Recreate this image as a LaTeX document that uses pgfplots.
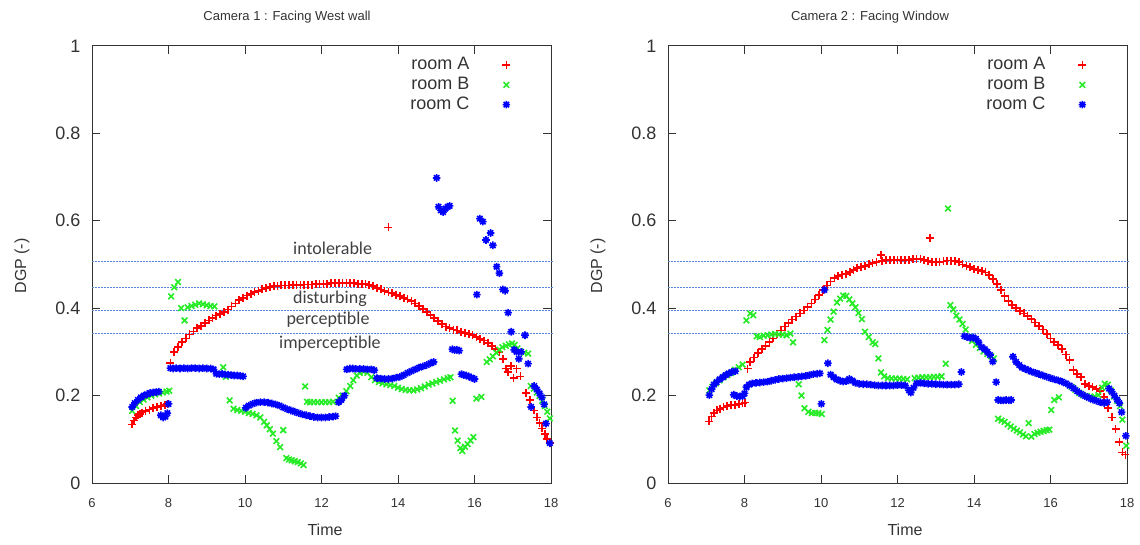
\documentclass[border=0pt]{standalone}
\usepackage{pgfplots}
\pgfplotsset{compat=1.18}
\usepackage{fontspec}
\setmainfont{Liberation Sans}
\newfontfamily\calfont{Carlito}

\definecolor{gpred}{rgb}{1,0,0}
\definecolor{gpgreen}{rgb}{0.15,0.92,0.15}
\definecolor{gpblue}{rgb}{0,0,1}
\definecolor{bandline}{rgb}{0.33,0.53,0.85}
\definecolor{txtgray}{rgb}{0.2,0.2,0.2}
\definecolor{bandtxt}{rgb}{0.25,0.25,0.25}

% gnuplot style 8 arm star
\pgfdeclareplotmark{gstar}{%
  \pgfpathmoveto{\pgfqpoint{-\pgfplotmarksize}{0pt}}\pgfpathlineto{\pgfqpoint{\pgfplotmarksize}{0pt}}%
  \pgfpathmoveto{\pgfqpoint{0pt}{-\pgfplotmarksize}}\pgfpathlineto{\pgfqpoint{0pt}{\pgfplotmarksize}}%
  \pgfpathmoveto{\pgfqpoint{-.707\pgfplotmarksize}{-.707\pgfplotmarksize}}\pgfpathlineto{\pgfqpoint{.707\pgfplotmarksize}{.707\pgfplotmarksize}}%
  \pgfpathmoveto{\pgfqpoint{-.707\pgfplotmarksize}{.707\pgfplotmarksize}}\pgfpathlineto{\pgfqpoint{.707\pgfplotmarksize}{-.707\pgfplotmarksize}}%
  \pgfusepathqstroke}

\pgfplotsset{
  dgpaxis/.style={
    scale only axis, width=459pt, height=437pt,
    anchor=south west, clip=false,
    xmin=6, xmax=18, ymin=0, ymax=1,
    xtick={6,8,10,12,14,16,18}, xticklabels={6,8,10,12,14,16,18},
    ytick={0,0.2,0.4,0.6,0.8,1}, yticklabels={0,0.2,0.4,0.6,0.8,1},
    tick align=inside, major tick length=8pt,
    axis line style={txtgray, line width=1pt},
    every tick/.style={txtgray, line width=1pt},
    xticklabel style={inner sep=0pt, yshift=-15pt, font=\fontsize{13}{15}\selectfont, text=txtgray},
    yticklabel style={inner sep=0pt, xshift=-11.5pt, font=\fontsize{18}{20}\selectfont, text=txtgray},
    legend plot pos=right, legend cell align=right,
    legend style={draw=none, fill=none, inner sep=0pt,
      at={(rel axis cs:0.912,0.976)}, anchor=north east,
      font=\fontsize{18}{20}\selectfont, text=txtgray,
      row sep=2.7pt, column sep=33pt,
      nodes={inner sep=0pt, text height=13pt, text depth=4pt}},
  },
  roomA/.style={only marks, mark=+, mark size=4pt, draw=gpred, color=gpred,
    mark options={draw=gpred, line width=1.7pt}},
  roomB/.style={only marks, mark=x, mark size=4pt, draw=gpgreen, color=gpgreen,
    mark options={draw=gpgreen, line width=1.6pt}},
  roomC/.style={only marks, mark=gstar, mark size=3.8pt, draw=gpblue, color=gpblue,
    mark options={draw=gpblue, line width=1.6pt}},
  band/.style={forget plot, no marks, draw=bandline, line width=1pt, dash pattern=on 2pt off 1pt},
}

\begin{document}
\begin{tikzpicture}
\path[use as bounding box] (0,0) rectangle (1140pt,544pt);

% ---------------- Camera 1 ----------------
\begin{axis}[dgpaxis, at={(92pt,61pt)}]
\addplot[band] coordinates {(6,0.5069) (18.05,0.5069)};
\addplot[band] coordinates {(6,0.4474) (18.05,0.4474)};
\addplot[band] coordinates {(6,0.3947) (18.05,0.3947)};
\addplot[band] coordinates {(6,0.3421) (18.05,0.3421)};

\addplot[roomA] coordinates {
(7.05,0.134) (7.1,0.143) (7.15,0.150) (7.2,0.155) (7.25,0.158) (7.3,0.161) (7.4,0.165)
(7.5,0.168) (7.6,0.171) (7.7,0.174) (7.8,0.176) (7.9,0.178) (7.97,0.180)
(8.05,0.275) (8.15,0.300) (8.25,0.311) (8.35,0.322) (8.45,0.331) (8.55,0.340) (8.65,0.347)
(8.75,0.354) (8.85,0.360) (8.95,0.366) (9.05,0.372) (9.15,0.378) (9.25,0.383) (9.35,0.387)
(9.45,0.392) (9.55,0.397) (9.65,0.404) (9.75,0.411) (9.85,0.418) (9.95,0.424) (10.05,0.429)
(10.15,0.433) (10.25,0.437) (10.35,0.440) (10.45,0.443) (10.55,0.446) (10.65,0.448) (10.75,0.450)
(10.85,0.451) (10.95,0.452) (11.05,0.452) (11.15,0.452) (11.25,0.453) (11.35,0.453) (11.45,0.453)
(11.55,0.454) (11.65,0.454) (11.75,0.454) (11.85,0.455) (11.95,0.455) (12.05,0.456) (12.15,0.456)
(12.25,0.457) (12.35,0.457) (12.45,0.458) (12.55,0.458) (12.65,0.457) (12.75,0.457) (12.85,0.457)
(12.95,0.456) (13.05,0.456) (13.15,0.455) (13.25,0.453) (13.35,0.451) (13.45,0.447) (13.55,0.443)
(13.65,0.439) (13.75,0.585) (13.75,0.436) (13.85,0.434) (13.95,0.431) (14.05,0.428) (14.15,0.424)
(14.25,0.420) (14.35,0.416) (14.45,0.411) (14.55,0.405) (14.65,0.398) (14.75,0.391) (14.85,0.384)
(14.95,0.377) (15.05,0.371) (15.15,0.364) (15.25,0.358) (15.35,0.354) (15.45,0.351) (15.55,0.349)
(15.65,0.346) (15.75,0.344) (15.85,0.341) (15.95,0.338) (16.05,0.334) (16.15,0.330) (16.25,0.326)
(16.35,0.321) (16.45,0.314) (16.55,0.306) (16.65,0.300) (16.75,0.283) (16.82,0.262) (16.88,0.254)
(16.95,0.268) (17.02,0.240) (17.1,0.262) (17.2,0.244) (17.35,0.206) (17.45,0.190) (17.55,0.166)
(17.63,0.150) (17.7,0.138) (17.77,0.125) (17.84,0.112) (17.9,0.100) (17.97,0.092)
};
\addlegendentry{room A}

\addplot[roomB] coordinates {
(7.05,0.165) (7.15,0.176) (7.25,0.185) (7.35,0.191) (7.45,0.196) (7.55,0.200) (7.65,0.203)
(7.75,0.205) (7.85,0.207) (7.95,0.209) (8.02,0.211)
(8.07,0.427) (8.15,0.448) (8.25,0.460) (8.33,0.400) (8.42,0.372) (8.5,0.402) (8.6,0.405)
(8.7,0.408) (8.8,0.411) (8.9,0.409) (9.0,0.407) (9.1,0.405) (9.2,0.404)
(9.43,0.265) (9.5,0.243)
(9.6,0.189) (9.7,0.170) (9.8,0.167) (9.9,0.165) (10.0,0.163) (10.1,0.160) (10.2,0.158)
(10.3,0.155) (10.4,0.150) (10.5,0.140) (10.57,0.132) (10.65,0.123) (10.73,0.113) (10.82,0.096)
(10.92,0.082) (11.0,0.121) (11.08,0.057) (11.15,0.054) (11.22,0.052) (11.3,0.050) (11.38,0.048)
(11.46,0.045) (11.53,0.041) (11.57,0.221)
(11.62,0.186) (11.7,0.185) (11.8,0.185) (11.9,0.185) (12.0,0.185) (12.1,0.185) (12.2,0.185)
(12.3,0.186) (12.45,0.195) (12.55,0.200) (12.65,0.210) (12.75,0.222) (12.83,0.235) (12.92,0.246)
(13.0,0.252) (13.1,0.255) (13.2,0.252) (13.3,0.242) (13.4,0.235) (13.5,0.231) (13.6,0.228)
(13.7,0.226) (13.8,0.224) (13.9,0.222) (14.0,0.218) (14.1,0.215) (14.2,0.213) (14.3,0.212)
(14.4,0.212) (14.5,0.214) (14.6,0.217) (14.7,0.221) (14.8,0.225) (14.9,0.228) (15.0,0.231)
(15.1,0.234) (15.2,0.237) (15.3,0.240) (15.37,0.242)
(15.43,0.188) (15.49,0.120) (15.56,0.097) (15.63,0.080) (15.68,0.073) (15.75,0.083) (15.82,0.089)
(15.9,0.097) (15.97,0.105) (16.05,0.193) (16.18,0.197)
(16.32,0.277) (16.4,0.283) (16.48,0.290) (16.57,0.298) (16.65,0.305) (16.73,0.311) (16.82,0.314)
(16.9,0.317) (16.98,0.319) (17.05,0.316) (17.12,0.308) (17.2,0.301) (17.3,0.298) (17.4,0.296)
(17.47,0.222) (17.55,0.216) (17.63,0.207) (17.7,0.199) (17.77,0.188) (17.84,0.176) (17.9,0.163)
(17.97,0.148)
};
\addlegendentry{room B}

\addplot[roomC] coordinates {
(7.05,0.174) (7.12,0.183) (7.2,0.190) (7.28,0.196) (7.36,0.200) (7.44,0.203) (7.52,0.206)
(7.6,0.207) (7.68,0.208) (7.75,0.209)
(7.8,0.155) (7.86,0.150) (7.92,0.152) (7.97,0.160) (8.0,0.181)
(8.05,0.263) (8.12,0.262) (8.2,0.263) (8.3,0.262) (8.4,0.263) (8.5,0.262) (8.6,0.263)
(8.7,0.263) (8.8,0.262) (8.9,0.263) (9.0,0.262) (9.1,0.262) (9.18,0.260)
(9.25,0.250) (9.33,0.249) (9.4,0.250) (9.48,0.248) (9.56,0.248) (9.64,0.247) (9.72,0.246)
(9.8,0.246) (9.88,0.245) (9.95,0.244)
(10.02,0.172) (10.1,0.177) (10.2,0.181) (10.3,0.184) (10.4,0.185) (10.5,0.185) (10.6,0.184)
(10.7,0.182) (10.8,0.180) (10.9,0.177) (11.0,0.173) (11.1,0.169) (11.2,0.166) (11.3,0.163)
(11.4,0.160) (11.5,0.157) (11.6,0.155) (11.7,0.153) (11.8,0.151) (11.9,0.150) (12.0,0.150)
(12.1,0.150) (12.2,0.151) (12.3,0.152) (12.37,0.153)
(12.45,0.185) (12.52,0.190) (12.6,0.200)
(12.66,0.260) (12.74,0.262) (12.82,0.262) (12.9,0.261) (13.0,0.261) (13.1,0.261) (13.2,0.260)
(13.3,0.260) (13.38,0.258)
(13.45,0.240) (13.55,0.239) (13.65,0.238) (13.75,0.238) (13.85,0.239) (13.95,0.241) (14.05,0.243)
(14.15,0.247) (14.25,0.252) (14.35,0.256) (14.45,0.260) (14.55,0.264) (14.65,0.267) (14.75,0.270)
(14.85,0.274) (14.93,0.277)
(15.01,0.698)
(15.06,0.632) (15.12,0.624) (15.18,0.620) (15.24,0.628) (15.3,0.632) (15.35,0.634)
(15.42,0.306) (15.48,0.304) (15.54,0.305) (15.6,0.303)
(15.66,0.249) (15.72,0.247) (15.78,0.246) (15.85,0.244) (15.92,0.241) (16.0,0.238)
(16.06,0.431)
(16.14,0.605) (16.22,0.598) (16.3,0.556) (16.42,0.572) (16.48,0.544) (16.58,0.495) (16.65,0.480)
(16.74,0.443) (16.8,0.440) (16.88,0.390) (16.96,0.346) (17.04,0.305) (17.1,0.300) (17.16,0.284)
(17.22,0.300) (17.32,0.338) (17.4,0.273) (17.48,0.174) (17.56,0.222) (17.63,0.214) (17.7,0.205)
(17.76,0.196) (17.82,0.180) (17.87,0.136) (17.97,0.091)
};
\addlegendentry{room C}

\node[font=\calfont\fontsize{18}{20}\selectfont, text=bandtxt] at (axis cs:12.29,0.537) {intolerable};
\node[font=\calfont\fontsize{18}{20}\selectfont, text=bandtxt] at (axis cs:12.22,0.422) {disturbing};
\node[font=\calfont\fontsize{18}{20}\selectfont, text=bandtxt] at (axis cs:12.17,0.374) {perceptible};
\node[font=\calfont\fontsize{18}{20}\selectfont, text=bandtxt] at (axis cs:12.22,0.318) {imperceptible};
\end{axis}

% ---------------- Camera 2 ----------------
\begin{axis}[dgpaxis, at={(668pt,61pt)}]
\addplot[band] coordinates {(6,0.5069) (18.05,0.5069)};
\addplot[band] coordinates {(6,0.4474) (18.05,0.4474)};
\addplot[band] coordinates {(6,0.3947) (18.05,0.3947)};
\addplot[band] coordinates {(6,0.3421) (18.05,0.3421)};

\addplot[roomA] coordinates {
(7.08,0.141) (7.14,0.152) (7.2,0.160) (7.28,0.166) (7.36,0.170) (7.45,0.173) (7.55,0.176)
(7.65,0.178) (7.75,0.179) (7.85,0.180) (7.95,0.182) (8.02,0.184)
(8.08,0.262) (8.15,0.277) (8.25,0.287) (8.35,0.297) (8.45,0.306) (8.55,0.314) (8.65,0.322)
(8.75,0.331) (8.85,0.340) (8.95,0.349) (9.05,0.358) (9.15,0.366) (9.25,0.374) (9.35,0.381)
(9.45,0.388) (9.55,0.395) (9.65,0.403) (9.75,0.411) (9.85,0.420) (9.95,0.430) (10.05,0.442)
(10.15,0.452) (10.25,0.461) (10.35,0.469) (10.45,0.474) (10.55,0.477) (10.65,0.479) (10.75,0.483)
(10.85,0.488) (10.95,0.492) (11.05,0.495) (11.15,0.497) (11.25,0.500) (11.35,0.503) (11.45,0.506)
(11.57,0.521) (11.6,0.508) (11.7,0.510) (11.8,0.511) (11.9,0.511) (12.0,0.511) (12.1,0.510)
(12.2,0.510) (12.3,0.511) (12.4,0.512) (12.5,0.512) (12.6,0.512) (12.7,0.511) (12.8,0.508)
(12.85,0.560) (12.9,0.505) (13.0,0.505) (13.1,0.505) (13.2,0.507) (13.3,0.509) (13.4,0.509)
(13.5,0.508) (13.6,0.505) (13.7,0.500) (13.8,0.497) (13.9,0.494) (14.0,0.490) (14.1,0.487)
(14.2,0.485) (14.3,0.482) (14.4,0.476) (14.5,0.467) (14.6,0.455) (14.7,0.442) (14.8,0.428)
(14.9,0.416) (15.0,0.407) (15.1,0.400) (15.2,0.394) (15.3,0.388) (15.4,0.382) (15.5,0.375)
(15.6,0.367) (15.7,0.359) (15.8,0.351) (15.9,0.341) (16.0,0.331) (16.1,0.323) (16.2,0.316)
(16.3,0.306) (16.4,0.294) (16.5,0.281) (16.6,0.258) (16.7,0.250) (16.8,0.242) (16.9,0.226)
(17.0,0.222) (17.1,0.219) (17.2,0.215) (17.3,0.211) (17.4,0.196) (17.5,0.172) (17.6,0.150)
(17.7,0.124) (17.8,0.094) (17.88,0.070) (17.96,0.065)
};
\addlegendentry{room A}

\addplot[roomB] coordinates {
(7.08,0.212) (7.16,0.220) (7.25,0.228) (7.35,0.235) (7.45,0.242) (7.55,0.247) (7.65,0.252)
(7.75,0.259) (7.85,0.265) (7.95,0.271)
(8.05,0.372) (8.15,0.388) (8.23,0.384)
(8.32,0.336) (8.4,0.334) (8.5,0.337) (8.6,0.338) (8.7,0.340) (8.8,0.341) (8.9,0.340)
(9.0,0.340) (9.1,0.338) (9.2,0.342) (9.27,0.322)
(9.42,0.226) (9.49,0.200) (9.57,0.171) (9.67,0.163) (9.76,0.160) (9.85,0.160) (9.93,0.160)
(10.02,0.158)
(10.09,0.327) (10.17,0.350) (10.25,0.374) (10.33,0.392) (10.42,0.413) (10.5,0.422) (10.58,0.429)
(10.66,0.428) (10.74,0.420) (10.82,0.411) (10.9,0.402) (10.98,0.389) (11.07,0.375) (11.15,0.346)
(11.25,0.334) (11.35,0.322) (11.42,0.318) (11.5,0.285) (11.57,0.253)
(11.65,0.244) (11.75,0.240) (11.85,0.239) (11.95,0.239) (12.05,0.239) (12.15,0.238) (12.25,0.237)
(12.45,0.240) (12.55,0.241) (12.65,0.242) (12.75,0.242) (12.85,0.242) (12.95,0.243) (13.05,0.243)
(13.15,0.244) (13.26,0.273) (13.32,0.628)
(13.38,0.407) (13.46,0.397) (13.54,0.383) (13.62,0.374) (13.7,0.364) (13.78,0.351) (13.87,0.334)
(13.95,0.325) (14.05,0.316) (14.15,0.309) (14.25,0.301) (14.35,0.295) (14.45,0.290) (14.52,0.285)
(14.63,0.147) (14.72,0.143) (14.8,0.140) (14.88,0.134) (14.96,0.129) (15.04,0.124) (15.12,0.120)
(15.2,0.116) (15.28,0.111) (15.36,0.107) (15.43,0.137) (15.5,0.106) (15.58,0.112) (15.66,0.115)
(15.74,0.117) (15.82,0.119) (15.9,0.121) (15.97,0.122)
(16.02,0.167) (16.1,0.190) (16.22,0.196)
(16.55,0.220) (16.65,0.213) (16.75,0.206) (16.85,0.201) (16.95,0.199) (17.05,0.197) (17.15,0.198)
(17.25,0.201) (17.35,0.218) (17.42,0.227) (17.5,0.225) (17.58,0.212) (17.66,0.198) (17.74,0.188)
(17.82,0.176) (17.88,0.145) (17.98,0.085)
};
\addlegendentry{room B}

\addplot[roomC] coordinates {
(7.08,0.201) (7.14,0.215) (7.2,0.225) (7.27,0.231) (7.35,0.237) (7.43,0.242) (7.51,0.247)
(7.59,0.251) (7.67,0.254) (7.76,0.256)
(7.72,0.202) (7.8,0.199) (7.88,0.198) (7.95,0.199) (8.0,0.205)
(8.05,0.219) (8.12,0.225) (8.2,0.228) (8.3,0.229) (8.4,0.230) (8.5,0.231) (8.6,0.232)
(8.7,0.234) (8.8,0.236) (8.9,0.238) (9.0,0.239) (9.1,0.240) (9.2,0.241) (9.3,0.242)
(9.4,0.243) (9.5,0.244) (9.6,0.245) (9.7,0.247) (9.8,0.249) (9.9,0.250) (9.97,0.251)
(10.01,0.181) (10.09,0.442) (10.18,0.274)
(10.25,0.248) (10.33,0.242) (10.41,0.237) (10.5,0.234) (10.58,0.232) (10.66,0.233) (10.74,0.238)
(10.82,0.234) (10.9,0.229) (11.0,0.227) (11.1,0.226) (11.2,0.226) (11.3,0.225) (11.4,0.224)
(11.5,0.223) (11.6,0.223) (11.7,0.223) (11.8,0.223) (11.9,0.223) (12.0,0.224) (12.1,0.224)
(12.2,0.223) (12.3,0.212) (12.35,0.207) (12.42,0.218) (12.5,0.228) (12.6,0.229) (12.7,0.228)
(12.8,0.227) (12.9,0.227) (13.0,0.226) (13.1,0.226) (13.2,0.225) (13.3,0.225) (13.4,0.225)
(13.5,0.225) (13.6,0.226)
(13.67,0.254)
(13.75,0.336) (13.82,0.334) (13.9,0.332) (13.98,0.333) (14.05,0.330) (14.12,0.322) (14.2,0.311)
(14.28,0.306) (14.35,0.300) (14.42,0.293) (14.49,0.278) (14.58,0.231)
(14.63,0.190) (14.7,0.189) (14.77,0.189) (14.84,0.190) (14.91,0.189) (14.97,0.190)
(15.02,0.289) (15.1,0.277) (15.18,0.270) (15.26,0.264) (15.34,0.261) (15.42,0.258) (15.5,0.255)
(15.6,0.252) (15.7,0.249) (15.8,0.246) (15.9,0.243) (16.0,0.240) (16.1,0.237) (16.2,0.235)
(16.3,0.232) (16.4,0.228) (16.5,0.223) (16.6,0.217) (16.7,0.210) (16.8,0.204) (16.9,0.199)
(17.0,0.195) (17.1,0.191) (17.2,0.188) (17.3,0.185) (17.4,0.183) (17.48,0.185)
(17.53,0.216) (17.6,0.209) (17.67,0.200) (17.74,0.191) (17.8,0.183) (17.86,0.162) (17.97,0.108)
};
\addlegendentry{room C}
\end{axis}

% titles and axis labels
\node[font=\fontsize{13}{15}\selectfont, text=txtgray] at (287pt,527pt) {Camera 1 : Facing West wall};
\node[font=\fontsize{13}{15}\selectfont, text=txtgray] at (870pt,527pt) {Camera 2 : Facing Window};
\node[font=\fontsize{16}{18}\selectfont, text=txtgray, rotate=90] at (22pt,278pt) {DGP (-)};
\node[font=\fontsize{16}{18}\selectfont, text=txtgray, rotate=90] at (598pt,278pt) {DGP (-)};
\node[font=\fontsize{16}{18}\selectfont, text=txtgray] at (325pt,14pt) {Time};
\node[font=\fontsize{16}{18}\selectfont, text=txtgray] at (905pt,14pt) {Time};
\end{tikzpicture}
\end{document}
